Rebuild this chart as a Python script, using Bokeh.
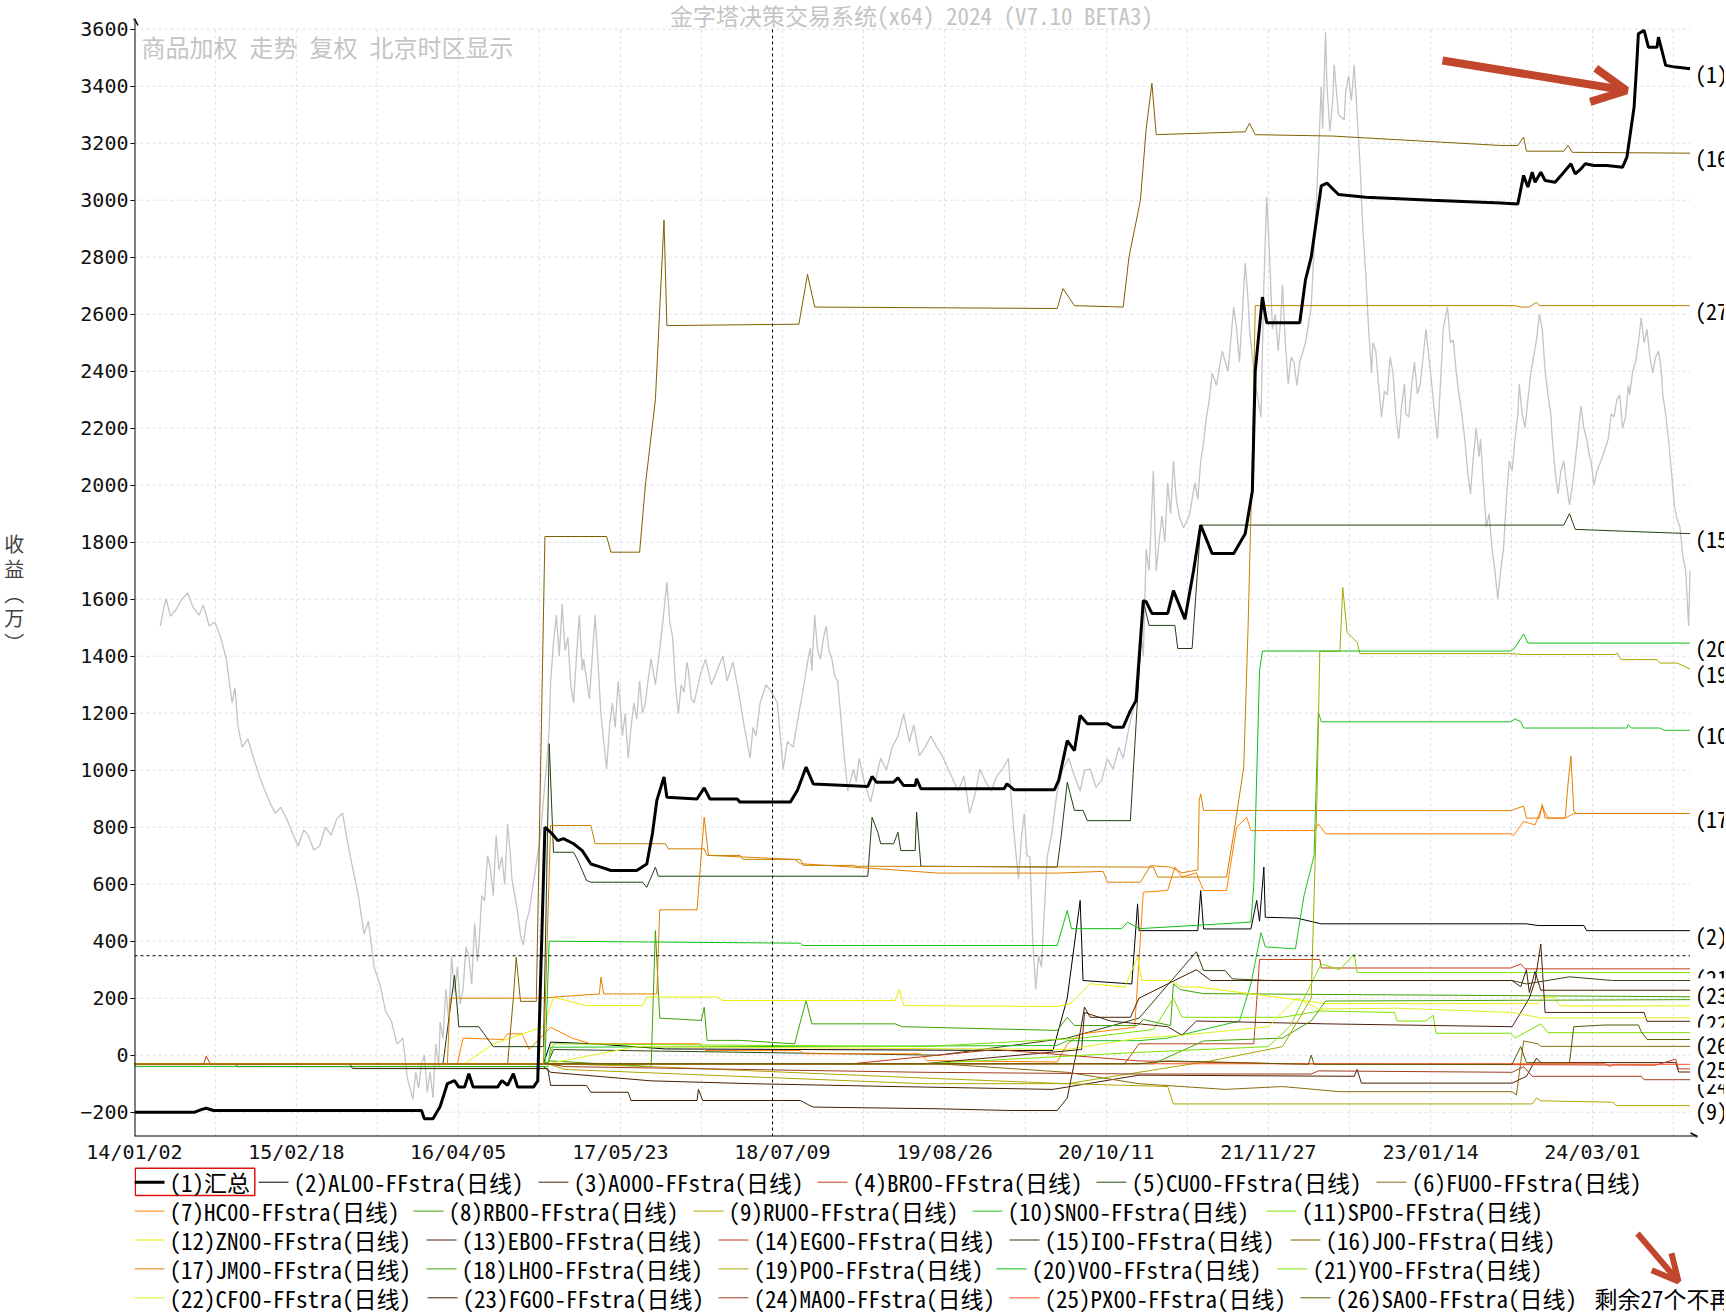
import datetime as dt
from bokeh.plotting import figure
from bokeh.models import Range1d, FixedTicker, Label, Arrow, OpenHead, ColumnDataSource
from bokeh.layouts import column
from bokeh.core.properties import value
from bokeh.embed import file_html
from bokeh.resources import INLINE

# ---------------- data (x = decimal year since 2014-01-02, y = 收益 in 万) ----------------
x_tick_labels = ["14/01/02", "15/02/18", "16/04/05", "17/05/23", "18/07/09",
                 "19/08/26", "20/10/11", "21/11/27", "23/01/14", "24/03/01"]
y_ticks = list(range(-200, 3601, 200))

names = ["(1)汇总", "(2)AL00-FFstra(日线)", "(3)A000-FFstra(日线)", "(4)BR00-FFstra(日线)",
         "(5)CU00-FFstra(日线)", "(6)FU00-FFstra(日线)", "(7)HC00-FFstra(日线)", "(8)RB00-FFstra(日线)",
         "(9)RU00-FFstra(日线)", "(10)SN00-FFstra(日线)", "(11)SP00-FFstra(日线)", "(12)ZN00-FFstra(日线)",
         "(13)EB00-FFstra(日线)", "(14)EG00-FFstra(日线)", "(15)I00-FFstra(日线)", "(16)J00-FFstra(日线)",
         "(17)JM00-FFstra(日线)", "(18)LH00-FFstra(日线)", "(19)P00-FFstra(日线)", "(20)V00-FFstra(日线)",
         "(21)Y00-FFstra(日线)", "(22)CF00-FFstra(日线)", "(23)FG00-FFstra(日线)", "(24)MA00-FFstra(日线)",
         "(25)PX00-FFstra(日线)", "(26)SA00-FFstra(日线)"]
more_text = "剩余27个不再显示"

colors = ["#000000", "#000000", "#4a2000", "#c0401a", "#2e4a10", "#8a6a10", "#ff8000", "#40a000",
          "#b0a800", "#20c020", "#80e000", "#e8f000", "#502010", "#c03818", "#1e4010", "#806000",
          "#e08000", "#48a000", "#a8a800", "#10c010", "#80e000", "#e0f020", "#402000", "#a03c1e",
          "#ff5020", "#5a5a00", "#c88000"]

price = [(2014.18,1506),(2014.20,1560),(2014.22,1602),(2014.25,1540),(2014.29,1564),(2014.33,1600),
         (2014.37,1622),(2014.41,1570),(2014.45,1544),(2014.48,1580),(2014.52,1506),(2014.56,1520),
         (2014.60,1467),(2014.64,1390),(2014.68,1236),(2014.70,1290),(2014.72,1158),(2014.75,1081),
         (2014.79,1110),(2014.83,1042),(2014.87,980),(2014.91,927),(2014.95,880),(2014.98,849),
         (2015.02,870),(2015.06,830),(2015.10,780),(2015.14,734),(2015.18,790),(2015.21,772),
         (2015.25,720),(2015.29,734),(2015.33,800),(2015.37,772),(2015.41,830),(2015.45,849),
         (2015.48,760),(2015.52,656),(2015.56,560),(2015.60,425),(2015.63,470),(2015.67,309),
         (2015.71,250),(2015.75,154),(2015.79,120),(2015.83,39),(2015.87,60),(2015.90,-77),
         (2015.94,-154),(2015.96,-60),(2015.98,-116),(2016.00,-30),(2016.02,0),(2016.04,-130),
         (2016.06,-58),(2016.08,-150),(2016.10,39),(2016.12,-40),(2016.13,116),(2016.15,60),
         (2016.17,232),(2016.19,120),(2016.21,347),(2016.23,220),(2016.25,309),(2016.27,180),
         (2016.29,232),(2016.31,380),(2016.33,347),(2016.35,250),(2016.37,463),(2016.39,330),
         (2016.40,386),(2016.42,560),(2016.44,541),(2016.46,700),(2016.48,656),(2016.50,560),
         (2016.52,772),(2016.54,650),(2016.56,695),(2016.58,600),(2016.60,811),(2016.62,700),
         (2016.63,618),(2016.65,560),(2016.67,502),(2016.69,420),(2016.71,386),(2016.73,470),
         (2016.75,502),(2016.79,640),(2016.83,772),(2016.85,900),(2016.87,1004),(2016.89,1150),
         (2016.90,1313),(2016.92,1450),(2016.94,1544),(2016.96,1400),(2016.98,1583),(2017.00,1420),
         (2017.02,1467),(2017.04,1300),(2017.06,1236),(2017.08,1400),(2017.10,1544),(2017.12,1350),
         (2017.13,1390),(2017.17,1250),(2017.21,1544),(2017.23,1380),(2017.25,1197),(2017.27,1100),
         (2017.29,1004),(2017.31,1150),(2017.33,1236),(2017.35,1150),(2017.37,1313),(2017.39,1200),
         (2017.40,1120),(2017.42,1200),(2017.44,1042),(2017.46,1150),(2017.48,1236),(2017.50,1180),
         (2017.52,1313),(2017.54,1200),(2017.56,1236),(2017.58,1320),(2017.60,1390),(2017.63,1300),
         (2017.67,1467),(2017.69,1560),(2017.71,1660),(2017.73,1520),(2017.75,1467),(2017.77,1300),
         (2017.79,1197),(2017.81,1300),(2017.83,1274),(2017.85,1380),(2017.86,1351),(2017.88,1250),
         (2017.90,1236),(2017.94,1330),(2017.98,1390),(2018.02,1300),(2018.06,1351),(2018.10,1400),
         (2018.13,1313),(2018.17,1380),(2018.21,1274),(2018.25,1150),(2018.29,1042),(2018.31,1150),
         (2018.33,1120),(2018.36,1236),(2018.40,1300),(2018.44,1274),(2018.48,1236),(2018.50,1120),
         (2018.52,1004),(2018.55,1100),(2018.59,1081),(2018.63,1200),(2018.67,1313),(2018.69,1380),
         (2018.71,1429),(2018.72,1350),(2018.74,1544),(2018.76,1420),(2018.78,1390),(2018.80,1460),
         (2018.82,1506),(2018.84,1420),(2018.86,1390),(2018.88,1330),(2018.90,1313),(2018.92,1200),
         (2018.94,1081),(2018.97,927),(2019.01,1004),(2019.03,960),(2019.05,1042),(2019.09,950),
         (2019.13,888),(2019.17,980),(2019.20,1042),(2019.24,1000),(2019.28,1081),(2019.32,1120),
         (2019.36,1197),(2019.40,1100),(2019.43,1158),(2019.47,1050),(2019.51,1081),(2019.55,1120),
         (2019.59,1081),(2019.63,1050),(2019.67,1004),(2019.71,960),(2019.74,927),(2019.78,980),
         (2019.82,849),(2019.86,920),(2019.89,1004),(2019.93,960),(2019.97,927),(2020.01,980),
         (2020.05,1004),(2020.09,1042),(2020.11,900),(2020.13,772),(2020.16,618),(2020.18,760),
         (2020.20,849),(2020.22,700),(2020.24,695),(2020.26,400),(2020.28,232),(2020.30,350),
         (2020.32,309),(2020.34,500),(2020.36,695),(2020.39,772),(2020.41,850),(2020.43,927),
         (2020.47,1004),(2020.51,1042),(2020.55,980),(2020.59,927),(2020.62,1000),(2020.66,1004),
         (2020.70,940),(2020.74,965),(2020.78,1040),(2020.82,1004),(2020.86,1080),(2020.89,1042),
         (2020.93,1150),(2020.97,1236),(2021.01,1500),(2021.03,1400),(2021.05,1776),(2021.07,1700),
         (2021.09,1931),(2021.10,2050),(2021.12,1699),(2021.14,1800),(2021.16,1892),(2021.18,1800),
         (2021.20,2008),(2021.22,1900),(2021.24,2085),(2021.26,1950),(2021.28,1892),(2021.31,1850),
         (2021.35,1892),(2021.37,1950),(2021.39,2008),(2021.41,1950),(2021.43,2085),(2021.45,2150),
         (2021.47,2239),(2021.49,2300),(2021.51,2394),(2021.54,2350),(2021.58,2471),(2021.62,2400),
         (2021.66,2625),(2021.68,2550),(2021.70,2432),(2021.72,2600),(2021.74,2780),(2021.76,2650),
         (2021.77,2548),(2021.79,2450),(2021.81,2355),(2021.83,2300),(2021.85,2239),(2021.87,2700),
         (2021.89,3012),(2021.91,2800),(2021.93,2548),(2021.95,2600),(2021.97,2471),(2021.99,2600),
         (2022.00,2703),(2022.02,2500),(2022.04,2355),(2022.06,2450),(2022.08,2432),(2022.10,2350),
         (2022.12,2432),(2022.16,2500),(2022.20,2625),(2022.23,2934),(2022.25,3150),(2022.27,3398),
         (2022.28,3250),(2022.30,3591),(2022.31,3400),(2022.33,3243),(2022.35,3350),(2022.36,3475),
         (2022.39,3300),(2022.43,3282),(2022.44,3380),(2022.46,3436),(2022.48,3350),(2022.50,3475),
         (2022.52,3300),(2022.54,3127),(2022.56,2900),(2022.58,2741),(2022.60,2550),(2022.62,2394),
         (2022.63,2500),(2022.65,2471),(2022.67,2350),(2022.69,2239),(2022.71,2330),(2022.73,2317),
         (2022.75,2450),(2022.77,2394),(2022.79,2250),(2022.81,2162),(2022.83,2280),(2022.85,2355),
         (2022.86,2250),(2022.88,2239),(2022.90,2350),(2022.92,2432),(2022.94,2320),(2022.96,2355),
         (2022.98,2450),(2023.00,2548),(2023.02,2450),(2023.04,2355),(2023.06,2250),(2023.08,2162),
         (2023.10,2350),(2023.12,2548),(2023.14,2600),(2023.15,2625),(2023.17,2500),(2023.19,2510),
         (2023.21,2400),(2023.23,2317),(2023.25,2250),(2023.27,2162),(2023.29,2050),(2023.31,1969),
         (2023.33,2100),(2023.35,2201),(2023.37,2100),(2023.38,2162),(2023.40,2000),(2023.42,1853),
         (2023.44,1900),(2023.46,1776),(2023.48,1700),(2023.50,1602),(2023.52,1700),(2023.54,1776),
         (2023.56,1950),(2023.58,2085),(2023.60,2050),(2023.62,2162),(2023.64,2250),(2023.65,2355),
         (2023.67,2250),(2023.69,2201),(2023.71,2300),(2023.73,2394),(2023.75,2450),(2023.77,2510),
         (2023.79,2600),(2023.81,2548),(2023.83,2400),(2023.85,2317),(2023.87,2250),(2023.88,2162),
         (2023.90,2050),(2023.92,1969),(2023.94,2050),(2023.96,2085),(2023.98,2000),(2024.00,1931),
         (2024.02,2000),(2024.04,2085),(2024.06,2180),(2024.08,2278),(2024.10,2200),(2024.12,2162),
         (2024.14,2100),(2024.15,2085),(2024.17,2000),(2024.19,2046),(2024.23,2100),(2024.27,2162),
         (2024.29,2250),(2024.31,2239),(2024.33,2300),(2024.35,2317),(2024.37,2200),(2024.39,2239),
         (2024.41,2350),(2024.42,2317),(2024.44,2400),(2024.46,2432),(2024.48,2500),(2024.50,2587),
         (2024.52,2500),(2024.54,2548),(2024.56,2450),(2024.58,2394),(2024.60,2450),(2024.62,2471),
         (2024.64,2400),(2024.65,2317),(2024.67,2250),(2024.69,2162),(2024.71,2050),(2024.73,1931),
         (2024.75,1880),(2024.77,1853),(2024.79,1750),(2024.81,1699),(2024.83,1506),(2024.84,1699)]

s01 = [(2014.00,-200),(2014.42,-200),(2014.47,-190),(2014.50,-186),(2014.55,-194),(2016.00,-194),
       (2016.02,-223),(2016.08,-223),(2016.13,-180),(2016.18,-100),(2016.23,-89),(2016.26,-112),
       (2016.30,-112),(2016.33,-65),(2016.36,-112),(2016.53,-112),(2016.56,-89),(2016.60,-106),
       (2016.64,-65),(2016.67,-112),(2016.78,-112),(2016.81,-90),(2016.86,800),(2016.91,777),
       (2016.95,753),(2016.99,760),(2017.06,742),(2017.12,718),(2017.15,695),(2017.18,671),
       (2017.25,660),(2017.32,648),(2017.50,648),(2017.57,671),(2017.61,780),(2017.64,894),
       (2017.69,976),(2017.71,905),(2017.92,899),(2017.97,938),(2018.01,899),(2018.20,899),
       (2018.22,888),(2018.57,888),(2018.62,930),(2018.68,1011),(2018.73,952),(2019.11,943),
       (2019.14,978),(2019.17,958),(2019.29,958),(2019.32,973),(2019.36,946),(2019.44,946),
       (2019.45,970),(2019.48,935),(2020.06,935),(2020.08,952),(2020.13,931),(2020.41,931),
       (2020.44,964),(2020.50,1104),(2020.55,1069),(2020.59,1192),(2020.64,1163),(2020.78,1163),
       (2020.82,1151),(2020.89,1151),(2020.94,1209),(2020.98,1245),(2021.01,1455),(2021.03,1595),
       (2021.05,1591),(2021.09,1550),(2021.20,1550),(2021.24,1630),(2021.32,1530),(2021.38,1700),
       (2021.43,1860),(2021.51,1760),(2021.66,1760),(2021.74,1830),(2021.79,1980),(2021.81,2400),
       (2021.86,2660),(2021.89,2570),(2022.12,2570),(2022.16,2720),(2022.20,2800),(2022.27,3050),
       (2022.31,3060),(2022.39,3020),(2022.58,3010),(2023.04,3000),(2023.52,2990),(2023.64,2987),
       (2023.68,3087),(2023.71,3046),(2023.74,3098),(2023.76,3063),(2023.80,3098),(2023.83,3069),
       (2023.90,3063),(2023.95,3092),(2024.01,3128),(2024.04,3092),(2024.08,3110),(2024.11,3128),
       (2024.17,3122),(2024.26,3122),(2024.37,3116),(2024.40,3151),(2024.45,3326),(2024.47,3490),
       (2024.48,3584),(2024.52,3596),(2024.55,3537),(2024.61,3537),(2024.62,3572),(2024.65,3513),
       (2024.67,3473),(2024.74,3467),(2024.84,3461)]
s02 = [(2014.00,-30),(2016.85,-30),(2016.90,46),(2017.20,40),(2017.70,22),(2020.40,16),(2020.50,200),
       (2020.59,543),(2020.61,262),(2020.95,250),(2020.99,531),(2021.00,437),(2021.41,437),
       (2021.43,578),(2021.45,443),(2021.78,443),(2021.82,543),(2021.84,470),(2021.87,660),
       (2021.88,484),(2022.10,481),(2022.15,475),(2022.27,461),(2023.70,461),(2023.78,455),
       (2024.10,455),(2024.12,437),(2024.84,437)]
s03 = [(2014.00,-30),(2014.70,-30),(2014.72,-40),(2016.85,-40),(2016.90,-60),(2017.60,-90),(2018.30,-100),
       (2019.30,-110),(2020.40,-120),(2021.00,-70),(2022.50,-74),(2022.52,-50),(2022.55,-98),
       (2023.60,-98),(2023.70,-74),(2023.77,-10),(2023.80,-26),(2024.74,-26),(2024.76,-59),(2024.84,-59)]
s04 = [(2014.00,-33),(2014.48,-33),(2014.50,-3),(2014.53,-33),(2020.90,-30),(2021.00,40),(2021.80,40),
       (2021.84,336),(2022.26,336),(2022.27,306),(2023.59,306),(2023.66,320),(2023.69,303),(2024.84,303)]
s05 = [(2014.00,-30),(2016.88,-30),(2016.92,20),(2019.60,0),(2020.50,60),(2021.00,130),(2021.40,363),
       (2021.45,297),(2021.60,297),(2021.65,268),(2021.90,262),(2023.60,262),(2023.70,250),
       (2024.00,275),(2024.30,262),(2024.84,262)]
s06 = [(2014.00,-30),(2016.88,-30),(2016.90,-30),(2019.60,-30),(2020.50,-60),(2021.00,-100),(2021.60,-120),
       (2022.00,-110),(2022.40,-128),(2023.60,-128),(2023.63,-140),(2023.68,50),(2023.78,40),
       (2023.80,31),(2024.84,31)]
s07 = [(2014.00,-30),(2016.25,-30),(2016.29,60),(2016.57,55),(2016.60,75),(2016.70,75),(2016.75,20),
       (2016.90,98),(2017.05,60),(2017.18,40),(2017.94,40),(2017.98,16),(2018.64,16),(2018.66,5),
       (2019.48,5),(2019.52,-19),(2020.43,-24),(2020.50,40),(2020.60,75),(2020.97,98),(2021.03,572),
       (2021.20,578),(2021.25,660),(2021.30,625),(2021.40,640),(2021.45,578),(2021.61,578),
       (2021.68,800),(2021.75,835),(2021.78,788),(2022.22,788),(2022.25,812),(2022.30,777),
       (2023.59,777),(2023.61,771),(2023.68,820),(2023.76,808),(2023.81,874),(2023.85,832),
       (2023.97,832),(2024.03,848),(2024.84,848)]
s08 = [(2014.00,-30),(2016.85,-30),(2016.90,-20),(2017.60,-40),(2017.63,437),(2017.66,130),(2017.95,122),
       (2017.97,168),(2017.99,52),(2018.22,52),(2018.60,40),(2018.68,192),(2018.72,110),(2019.30,110),
       (2019.35,100),(2020.43,87),(2020.50,133),(2020.55,104),(2020.99,104),(2021.03,125),
       (2021.22,104),(2021.24,250),(2021.29,230),(2021.45,216),(2024.84,205)]
s09 = [(2014.00,-30),(2016.88,-30),(2016.92,-30),(2017.60,-40),(2019.50,-80),(2020.50,-100),(2021.20,-110),
       (2021.24,-171),(2023.74,-171),(2023.77,-150),(2023.80,-160),(2024.30,-165),(2024.33,-177),
       (2024.84,-177)]
s10 = [(2014.00,-40),(2016.88,-40),(2016.90,28),(2020.43,34),(2020.50,51),(2021.00,51),(2021.20,60),
       (2021.70,120),(2021.78,250),(2021.85,430),(2021.88,380),(2022.09,373),(2022.15,560),
       (2022.22,700),(2022.25,1204),(2022.27,1170),(2023.59,1170),(2023.62,1180),(2023.66,1170),
       (2023.68,1148),(2024.40,1148),(2024.41,1160),(2024.43,1148),(2024.63,1148),(2024.66,1140),
       (2024.84,1140)]
s11 = [(2014.00,-30),(2016.88,-30),(2016.92,40),(2019.50,30),(2020.60,60),(2021.10,90),(2021.24,200),
       (2021.30,133),(2022.00,133),(2022.26,155),(2022.78,150),(2022.80,120),(2023.00,120),
       (2023.05,140),(2023.07,77),(2023.59,77),(2023.62,60),(2023.80,110),(2023.85,79),(2024.84,79)]
s12 = [(2014.00,-30),(2016.30,-30),(2016.50,40),(2016.85,100),(2016.92,204),(2017.15,174),(2017.54,174),
       (2017.57,204),(2018.06,204),(2018.10,192),(2019.30,192),(2019.33,230),(2019.36,174),
       (2020.43,171),(2020.52,180),(2020.66,251),(2020.90,239),(2020.99,344),(2021.02,262),
       (2021.22,262),(2021.30,239),(2021.41,239),(2021.88,209),(2022.30,181),(2023.78,181),
       (2023.82,203),(2023.90,203),(2023.93,173),(2024.84,173)]
s13 = [(2014.00,-30),(2019.50,-30),(2020.60,20),(2020.62,150),(2020.80,120),(2021.20,100),(2021.30,70),
       (2021.40,120),(2022.30,110),(2023.60,100),(2023.72,200),(2023.76,260),(2023.80,390),
       (2023.83,150),(2024.52,150),(2024.54,119),(2024.84,119)]
s14 = [(2014.00,-30),(2019.00,-30),(2020.00,20),(2021.00,-20),(2022.00,-30),(2024.60,-35),(2024.74,-14),
       (2024.76,-48),(2024.84,-48)]
s15 = [(2014.00,-30),(2016.15,-30),(2016.23,280),(2016.26,100),(2016.40,100),(2016.50,30),(2016.85,30),
       (2016.89,1093),(2016.92,712),(2017.06,712),(2017.09,683),(2017.15,613),(2017.18,607),
       (2017.54,607),(2017.57,589),(2017.63,660),(2017.65,628),(2019.11,628),(2019.14,835),
       (2019.18,782),(2019.20,742),(2019.29,742),(2019.32,782),(2019.34,718),(2019.44,718),
       (2019.45,853),(2019.48,663),(2020.43,660),(2020.46,777),(2020.50,958),(2020.55,859),
       (2020.61,859),(2020.64,823),(2020.94,823),(2021.03,1595),(2021.07,1508),(2021.25,1508),
       (2021.27,1427),(2021.37,1427),(2021.43,1860),(2023.96,1860),(2024.00,1900),(2024.04,1845),
       (2024.84,1830)]
s16 = [(2014.00,-30),(2016.60,-30),(2016.64,200),(2016.66,344),(2016.69,189),(2016.80,189),(2016.86,1820),
       (2017.29,1820),(2017.32,1765),(2017.52,1765),(2017.56,2000),(2017.63,2300),(2017.69,2930),
       (2017.71,2560),(2018.63,2565),(2018.69,2740),(2018.74,2625),(2020.43,2620),(2020.47,2690),
       (2020.55,2630),(2020.89,2625),(2020.93,2800),(2020.97,2900),(2021.01,3000),(2021.05,3250),
       (2021.09,3410),(2021.12,3230),(2021.74,3240),(2021.77,3270),(2021.81,3230),(2022.35,3225),
       (2023.52,3192),(2023.64,3192),(2023.68,3221),(2023.70,3172),(2023.96,3172),(2023.99,3192),
       (2024.02,3168),(2024.84,3165)]
s17 = [(2014.00,-33),(2016.18,-33),(2016.20,200),(2016.82,200),(2017.24,215),(2017.25,274),(2017.27,215),
       (2017.64,215),(2017.66,510),(2017.92,510),(2017.97,835),(2018.00,701),(2018.60,687),
       (2018.64,672),(2019.00,660),(2019.30,650),(2019.60,639),(2020.43,639),(2020.75,645),
       (2020.78,607),(2021.01,607),(2021.08,665),(2021.22,660),(2021.30,640),(2021.41,650),
       (2021.42,894),(2021.43,917),(2021.45,859),(2023.59,858),(2023.68,874),(2023.70,832),
       (2023.79,832),(2023.81,880),(2023.83,832),(2023.97,832),(2023.99,953),(2024.01,1049),
       (2024.03,856),(2024.05,848),(2024.84,848)]
s18 = [(2014.00,-30),(2021.00,-30),(2021.10,-30),(2021.45,50),(2022.00,60),(2022.20,120),(2022.30,190),
       (2024.84,195)]
s19 = [(2014.00,-30),(2016.88,-30),(2017.00,-50),(2019.50,-100),(2020.50,-100),(2021.00,-60),(2021.50,-20),
       (2022.00,30),(2022.20,200),(2022.24,900),(2022.26,1418),(2022.40,1418),(2022.42,1641),
       (2022.45,1484),(2022.52,1448),(2022.54,1409),(2023.59,1409),(2023.68,1406),(2024.32,1406),
       (2024.33,1412),(2024.36,1388),(2024.61,1388),(2024.63,1376),(2024.75,1376),(2024.84,1355)]
s20 = [(2014.00,-30),(2016.86,-30),(2016.89,400),(2018.64,393),(2018.66,385),(2020.43,385),(2020.50,508),
       (2020.53,444),(2020.88,444),(2020.92,467),(2021.00,444),(2021.78,467),(2021.80,600),
       (2021.84,1350),(2021.86,1418),(2023.59,1418),(2023.62,1430),(2023.68,1478),(2023.71,1446),
       (2024.84,1446)]
s21 = [(2014.00,-30),(2019.50,-30),(2021.00,10),(2021.90,30),(2022.05,100),(2022.20,250),(2022.27,320),
       (2022.40,300),(2022.50,355),(2022.52,290),(2024.84,290)]
s22 = [(2014.00,-30),(2016.88,-30),(2017.50,30),(2020.50,20),(2021.00,60),(2021.30,70),(2021.90,100),
       (2022.10,200),(2022.25,162),(2022.80,165),(2023.07,160),(2023.60,150),(2023.80,131),(2024.84,131)]
s23 = [(2014.00,-30),(2015.50,-30),(2015.52,-47),(2016.88,-47),(2016.90,-106),(2017.15,-106),
       (2017.18,-130),(2017.44,-130),(2017.46,-159),(2017.92,-159),(2017.93,-120),(2017.96,-159),
       (2018.64,-159),(2018.70,-175),(2018.73,-182),(2019.60,-188),(2020.10,-194),(2020.43,-194),
       (2020.50,-150),(2020.58,50),(2020.62,169),(2020.66,133),(2020.94,133),(2021.00,200),
       (2021.40,300),(2021.50,262),(2023.60,262),(2023.66,240),(2023.70,300),(2023.72,220),
       (2023.76,294),(2023.80,228),(2024.84,228)]
s24 = [(2014.00,-30),(2016.88,-30),(2017.00,-40),(2019.50,-60),(2021.00,-66),(2022.20,-66),(2022.25,-55),
       (2023.60,-60),(2023.68,-40),(2023.74,-74),(2024.50,-74),(2024.52,-86),(2024.84,-86)]
s25 = [(2014.00,-30),(2021.40,-30),(2021.45,-30),(2024.25,-30),(2024.28,-40),(2024.31,-32),(2024.84,-32)]
s26 = [(2014.00,-30),(2021.00,-30),(2021.20,-20),(2022.18,-32),(2022.20,0),(2022.22,-32),(2023.60,-32),
       (2023.66,30),(2023.70,-26),(2024.00,-26),(2024.03,100),(2024.25,106),(2024.48,106),
       (2024.50,83),(2024.54,55),(2024.84,55)]
s27 = [(2014.00,-30),(2016.85,-30),(2016.90,806),(2017.18,806),(2017.21,742),(2017.70,742),(2017.72,724),
       (2017.97,724),(2017.99,701),(2018.22,701),(2018.24,687),(2018.64,687),(2018.66,666),
       (2019.01,666),(2019.03,663),(2021.10,660),(2021.13,625),(2021.61,625),(2021.66,777),
       (2021.73,1011),(2021.76,1500),(2021.79,2100),(2021.81,2630),(2023.62,2630),(2023.66,2625),
       (2023.72,2625),(2023.77,2642),(2023.79,2630),(2024.84,2630)]

series = [s01, s02, s03, s04, s05, s06, s07, s08, s09, s10, s11, s12, s13, s14, s15, s16, s17,
          s18, s19, s20, s21, s22, s23, s24, s25, s26, s27]

cursor_x = 2018.446   # crosshair position (date)
cursor_y = 349        # crosshair position (value)

# ---------------- layout (page pixels; Bokeh page has no body margin) ----------------
FONT = "'Noto Sans Mono CJK SC', 'Noto Sans CJK SC', monospace"
TICK_FONT = "'DejaVu Sans Mono', monospace"
W = 1724
H_MAIN = 1166
H_LEG = 146
FRAME_L, FRAME_T, FRAME_B = 134, 0, 30
PX_YEAR = 143.5
PX_UNIT = 0.285
ZERO_PY = 1054.7
X0 = 2014.0


def fx(px):  # page pixel -> x data (annotation placement only)
    return X0 + (px - FRAME_L) / PX_YEAR


def fy(py):  # page pixel -> y data (annotation placement only)
    return (ZERO_PY - py) / PX_UNIT


x_end = fx(W)
y_top = fy(FRAME_T)
y_bot = fy(H_MAIN - FRAME_B)
data_end = max(s[-1][0] for s in series)

base = dt.date(2014, 1, 2)
tick_x = [round(X0 + (dt.datetime.strptime(t, "%y/%m/%d").date() - base).days / 365.25, 6)
          for t in x_tick_labels]

p = figure(width=W, height=H_MAIN, x_range=Range1d(X0, x_end), y_range=Range1d(y_bot, y_top),
           toolbar_location=None, output_backend="svg",
           min_border_left=FRAME_L, min_border_right=0, min_border_top=FRAME_T,
           min_border_bottom=FRAME_B)
p.outline_line_color = None
p.xgrid.visible = False
p.ygrid.visible = False

# axes
p.yaxis.ticker = FixedTicker(ticks=y_ticks)
p.xaxis.ticker = FixedTicker(ticks=tick_x)
p.xaxis.major_label_overrides = {t: l for t, l in zip(tick_x, x_tick_labels)}
for ax in (p.xaxis[0], p.yaxis[0]):
    ax.axis_line_color = None
    ax.major_label_text_font = TICK_FONT
    ax.major_label_text_font_size = "20px"
    ax.major_label_text_color = "#111111"
    ax.minor_tick_line_color = None
    ax.major_tick_in = 0
p.yaxis.major_tick_out = 4
p.yaxis.major_tick_line_color = "black"
p.yaxis.major_label_standoff = 2
p.xaxis.major_tick_out = 0
p.xaxis.major_tick_line_color = None
p.xaxis.major_label_standoff = 3
p.yaxis.axis_label = "\n\n收\n益\n︵\n万\n︶"
p.yaxis.axis_label_orientation = "horizontal"
p.yaxis.axis_label_text_font = FONT
p.yaxis.axis_label_text_font_size = "20px"
p.yaxis.axis_label_text_font_style = "normal"
p.yaxis.axis_label_text_line_height = 0.85
p.yaxis.axis_label_standoff = 53

# dashed grid (from ticks)
half = 206 / 365.25
vgrid = []
for i, t in enumerate(tick_x):
    if i > 0:
        vgrid.append(t)
    nxt = tick_x[i + 1] if i + 1 < len(tick_x) else t + 2 * half
    vgrid.append((t + nxt) / 2)
p.segment(x0=vgrid, x1=vgrid, y0=[y_bot] * len(vgrid), y1=[max(y_ticks)] * len(vgrid),
          line_color="#dcdfea", line_width=1, line_dash="3 3")
p.segment(x0=[X0] * len(y_ticks), x1=[data_end] * len(y_ticks), y0=y_ticks, y1=y_ticks,
          line_color="#dcdfea", line_width=1, line_dash="3 3")

# price background
p.line([a for a, b in price], [b for a, b in price], line_color="#c4c4c4", line_width=1.3)

# series (1) drawn last, on top
for i in list(range(1, len(series))) + [0]:
    src = ColumnDataSource(dict(x=[a for a, b in series[i]], y=[b for a, b in series[i]]))
    p.line("x", "y", source=src, line_color=colors[i], line_width=3 if i == 0 else 1)

# crosshair
p.segment(x0=[cursor_x], x1=[cursor_x], y0=[y_bot], y1=[max(y_ticks)], line_color="black",
          line_width=1, line_dash="3 3")
p.segment(x0=[X0], x1=[data_end], y0=[cursor_y], y1=[cursor_y], line_color="black",
          line_width=1, line_dash="3 3")

# axis lines with arrow heads
p.add_layout(Arrow(end=OpenHead(size=7, line_width=1.5, line_color="black"), x_start=X0, y_start=y_bot,
                   x_end=fx(1697), y_end=y_bot, line_width=2, line_color="black"))
p.add_layout(Arrow(end=OpenHead(size=7, line_width=1.5, line_color="black"), x_start=X0, y_start=y_bot,
                   x_end=X0, y_end=fy(18), line_width=2, line_color="black"))

# series end tags
for i, s in enumerate(series):
    p.add_layout(Label(x=s[-1][0], y=s[-1][1], x_offset=5, y_offset=-4, text=f"({i + 1})",
                       text_font=FONT, text_font_size="22px", text_color="black",
                       text_baseline="middle", text_align="left", background_fill_color="white"))

# titles
p.add_layout(Label(x=fx(911), y=fy(14), text="金字塔决策交易系统(x64) 2024 (V7.10 BETA3)",
                   text_font=FONT, text_font_size="23px", text_color="#c4c4c4",
                   text_align="center", text_baseline="middle"))
p.add_layout(Label(x=fx(141), y=fy(46), text="商品加权 走势 复权 北京时区显示",
                   text_font=FONT, text_font_size="24px", text_color="#c4c4c4",
                   text_align="left", text_baseline="middle"))

# hand-drawn red arrow (top)
p.add_layout(Arrow(end=OpenHead(size=34, line_width=8, line_color="#c1462c"),
                   x_start=fx(1442), y_start=fy(60), x_end=fx(1626), y_end=fy(90),
                   line_width=8, line_color="#c1462c"))

# ---------------- legend block (data coords = page pixels) ----------------
leg = figure(width=W, height=H_LEG, x_range=Range1d(FRAME_L, W),
             y_range=Range1d(H_MAIN + H_LEG, H_MAIN),
             toolbar_location=None, output_backend="svg", min_border=0,
             x_axis_type=None, y_axis_type=None)
leg.outline_line_color = None

rows = [[1, 2, 3, 4, 5, 6], [7, 8, 9, 10, 11], [12, 13, 14, 15, 16], [17, 18, 19, 20, 21],
        [22, 23, 24, 25, 26]]
row_x = [[134, 258, 538, 817, 1096, 1376], [134, 413, 693, 972, 1266], [134, 426, 718, 1009, 1290],
         [134, 426, 718, 996, 1277], [134, 427, 718, 1009, 1300]]
row_y = [1181.7, 1210.6, 1239.5, 1268.4, 1297.3]
more_x = 1594

sw = dict(x0=[], x1=[], y=[], c=[], w=[])
tx = dict(x=[], y=[], t=[])
for row, xs, y in zip(rows, row_x, row_y):
    for n, x in zip(row, xs):
        sw["x0"].append(x); sw["x1"].append(x + 30); sw["y"].append(y)
        sw["c"].append(colors[n - 1]); sw["w"].append(3 if n == 1 else 1)
        tx["x"].append(x + 35); tx["y"].append(y); tx["t"].append(names[n - 1])
tx["x"].append(more_x); tx["y"].append(row_y[-1]); tx["t"].append(more_text)

leg.quad(left=[134.8], right=[254.3], top=[1167.7], bottom=[1195.0],
         fill_color=None, line_color="#e01010", line_width=1.5)
leg.segment(x0="x0", x1="x1", y0="y", y1="y", line_color="c", line_width="w",
            source=ColumnDataSource(sw))
leg.text(x="x", y="y", text="t", source=ColumnDataSource(tx), text_font=value(FONT),
         text_font_size="23px", text_color="black", text_baseline="middle", text_align="left")

# hand-drawn red arrow (bottom right)
leg.add_layout(Arrow(end=OpenHead(size=26, line_width=6, line_color="#c1462c"),
                     x_start=1637, y_start=1233, x_end=1678, y_end=1281,
                     line_width=6, line_color="#c1462c"))

layout = column(p, leg, spacing=0)
open("out.html", "w").write(file_html(layout, INLINE))
